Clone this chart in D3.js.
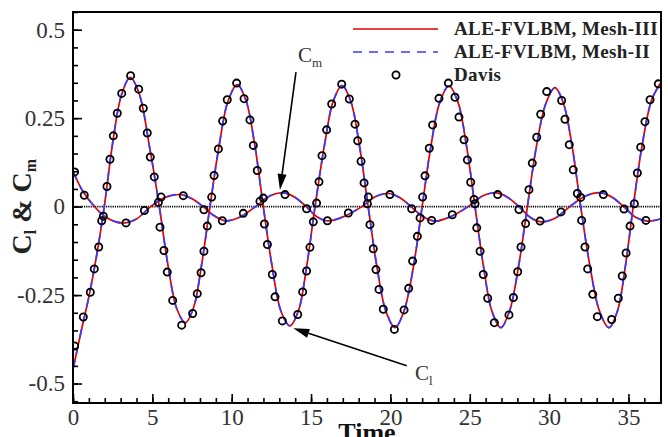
<!DOCTYPE html>
<html>
<head>
<meta charset="utf-8">
<style>
body { margin: 0; background: #fff; }
svg { display: block; font-family: "Liberation Serif", "DejaVu Serif", serif; }
</style>
</head>
<body>
<svg id="chart" width="668" height="437"></svg>
<script src="https://cdn.jsdelivr.net/npm/d3@7"></script>
<script>

// C_l, simulation (Mesh-III / Mesh-II overlap)
var clTime = [0, 0.5, 1.0, 1.5, 1.97, 2.5, 3.05, 3.6, 4.15, 4.85, 5.44, 6.0, 6.55, 7.08, 7.6, 8.1, 8.63,
  9.2, 9.78, 10.35, 10.9, 11.45, 11.99, 12.55, 13.1, 13.67, 14.2, 14.72, 15.25, 15.85, 16.4, 16.95,
  17.5, 18.05, 18.6, 19.15, 19.72, 20.29, 20.85, 21.45, 22.0, 22.55, 23.12, 23.69, 24.25, 24.8,
  25.33, 25.87, 26.4, 26.95, 27.5, 28.07, 28.63, 29.2, 29.8, 30.37, 30.9, 31.45, 31.99, 32.58,
  33.18, 33.77, 34.3, 34.8, 35.3, 35.85, 36.45, 37.0];
var clValue = [-0.46, -0.355, -0.255, -0.135, 0, 0.18, 0.315, 0.365, 0.322, 0.162, 0, -0.17, -0.29,
  -0.328, -0.285, -0.165, 0, 0.17, 0.3, 0.345, 0.3, 0.175, 0, -0.17, -0.295, -0.337, -0.295, -0.17,
  0, 0.175, 0.298, 0.342, 0.298, 0.172, 0, -0.17, -0.296, -0.342, -0.296, -0.17, 0, 0.17, 0.296,
  0.341, 0.296, 0.17, 0, -0.17, -0.296, -0.342, -0.296, -0.17, 0, 0.17, 0.292, 0.336, 0.292, 0.17,
  0, -0.17, -0.296, -0.342, -0.296, -0.17, 0, 0.17, 0.3, 0.348];

// C_m, simulation
var cmTime = [0, 0.6, 1.3, 2.0, 2.7, 3.3, 4.0, 4.9, 5.8, 6.8, 7.5, 8.2, 8.9, 9.6, 10.5, 11.5, 12.4,
  13.3, 14.0, 14.7, 15.35, 16.0, 16.9, 18.2, 19.05, 19.9, 20.6, 21.3, 22.05, 22.8, 23.7, 24.9, 25.8,
  26.7, 27.4, 28.1, 28.8, 29.5, 30.4, 31.3, 32.3, 33.3, 34.0, 34.7, 35.45, 36.2, 37.0];
var cmValue = [0.1, 0.045, 0.003, -0.028, -0.043, -0.046, -0.035, 0, 0.026, 0.034, 0.022, 0, -0.026,
  -0.04, -0.03, 0, 0.03, 0.039, 0.026, 0, -0.028, -0.04, -0.031, 0, 0.028, 0.037, 0.025, 0, -0.028,
  -0.041, -0.03, 0, 0.03, 0.039, 0.026, 0, -0.03, -0.043, -0.032, 0, 0.03, 0.039, 0.026, 0, -0.03,
  -0.041, -0.035];

// Davis, C_l
var davisClTime = [0.1, 0.65, 1.09, 1.34, 1.62, 1.91, 2.14, 2.33, 2.54, 2.79, 3.07, 3.63, 4.14, 4.43,
  4.68, 4.87, 5.12, 5.38, 5.48, 5.73, 5.94, 6.28, 6.85, 7.54, 7.83, 8.07, 8.25, 8.46, 8.74, 8.89,
  9.16, 9.43, 9.72, 10.31, 10.78, 11.15, 11.36, 11.61, 11.99, 12.06, 12.25, 12.56, 12.73, 13.19,
  14.16, 14.47, 14.72, 14.93, 15.14, 15.35, 15.5, 15.69, 15.98, 16.3, 16.93, 17.41, 17.77, 17.94,
  18.15, 18.34, 18.61, 18.71, 18.92, 19.09, 19.28, 19.55, 20.25, 20.86, 21.15, 21.4, 21.7, 21.87,
  22.03, 22.18, 22.45, 22.66, 23.06, 23.65, 24.07, 24.32, 24.64, 24.85, 25.06, 25.33, 25.44, 25.65,
  25.85, 26.13, 26.55, 27.47, 27.75, 28.02, 28.23, 28.52, 28.73, 28.94, 29.22, 29.47, 29.85, 30.79,
  31.0, 31.27, 31.52, 31.78, 32.05, 32.26, 32.43, 32.75, 33.04, 33.94, 34.36, 34.61, 34.85, 35.1,
  35.37, 35.56, 35.77, 36.04, 36.36, 36.88];
var davisClValue = [-0.394, -0.312, -0.242, -0.176, -0.114, -0.027, 0.057, 0.134, 0.2, 0.264, 0.32,
  0.37, 0.332, 0.278, 0.208, 0.14, 0.084, 0.012, -0.058, -0.124, -0.185, -0.265, -0.335, -0.302,
  -0.246, -0.187, -0.126, -0.055, 0.027, 0.088, 0.163, 0.242, 0.302, 0.349, 0.305, 0.245, 0.173,
  0.102, 0.024, -0.049, -0.107, -0.192, -0.255, -0.323, -0.305, -0.241, -0.182, -0.115, -0.043, 0.01,
  0.07, 0.144, 0.217, 0.29, 0.346, 0.304, 0.233, 0.186, 0.128, 0.067, 0.027, -0.051, -0.119, -0.178,
  -0.234, -0.29, -0.347, -0.292, -0.231, -0.154, -0.084, -0.032, 0.027, 0.087, 0.165, 0.231, 0.306,
  0.349, 0.309, 0.253, 0.189, 0.132, 0.069, 0.008, -0.06, -0.126, -0.192, -0.259, -0.328, -0.306,
  -0.257, -0.184, -0.114, -0.048, 0.048, 0.123, 0.196, 0.261, 0.325, 0.3, 0.247, 0.175, 0.104, 0.037,
  -0.039, -0.114, -0.176, -0.248, -0.311, -0.319, -0.259, -0.196, -0.131, -0.055, 0.008, 0.095, 0.168,
  0.24, 0.302, 0.347];

// Davis, C_m
var davisCmTime = [0.1, 0.71, 1.81, 3.34, 4.5, 5.55, 6.95, 8.25, 9.41, 10.73, 11.78, 13.36, 14.72,
  16.03, 17.35, 18.55, 19.97, 21.34, 22.6, 23.9, 25.27, 26.76, 28.1, 29.43, 30.75, 31.99, 33.42,
  34.72, 36.1];
var davisCmValue = [0.098, 0.032, -0.04, -0.046, -0.011, 0.027, 0.031, -0.009, -0.04, -0.019, 0.015,
  0.034, -0.006, -0.04, -0.018, 0.008, 0.034, -0.006, -0.039, -0.023, 0.02, 0.034, -0.008, -0.041,
  -0.015, 0.026, 0.034, -0.007, -0.039];

var xMajor = [0, 5, 10, 15, 20, 25, 30, 35];
var yMajor = [0.5, 0.25, 0, -0.25, -0.5];
var yLabels = ['0.5', '0.25', '0', '-0.25', '-0.5'];
var legendNames = ['ALE-FVLBM, Mesh-III', 'ALE-FVLBM, Mesh-II', 'Davis'];

var svg = d3.select('#chart');
var margin = {top: 12, right: 7, bottom: 34, left: 73},
    width = 668 - margin.left - margin.right,
    height = 437 - margin.top - margin.bottom;

var g = svg.append('g')
    .attr('transform', 'translate(' + margin.left + ',' + margin.top + ')');

var x = d3.scaleLinear().domain([0, 37.05]).range([0, width]);
var y = d3.scaleLinear().domain([-0.555, 0.55]).range([height, 0]);

g.append('clipPath').attr('id', 'clip')
  .append('rect').attr('width', width).attr('height', height);

// zero line
g.append('line')
    .attr('x1', 0).attr('x2', width)
    .attr('y1', y(0)).attr('y2', y(0))
    .style('stroke', '#000')
    .style('stroke-width', 1.6)
    .style('stroke-dasharray', '1.2,1');

var line = d3.line()
    .x(function(d) { return x(d[0]); })
    .y(function(d) { return y(d[1]); })
    .curve(d3.curveCatmullRom.alpha(0.5));

var clData = clTime.map(function(t, i) { return [t, clValue[i]]; });
var cmData = cmTime.map(function(t, i) { return [t, cmValue[i]]; });

var plot = g.append('g').attr('clip-path', 'url(#clip)');

[clData, cmData].forEach(function(d) {
  plot.append('path').datum(d)
      .attr('d', line)
      .style('fill', 'none')
      .style('stroke', '#e00000')
      .style('stroke-width', 1.7);
});
[clData, cmData].forEach(function(d) {
  plot.append('path').datum(d)
      .attr('d', line)
      .style('fill', 'none')
      .style('stroke', '#3a3aff')
      .style('stroke-width', 1.7)
      .style('stroke-dasharray', '9,7');
});

var davis = davisClTime.map(function(t, i) { return [t, davisClValue[i]]; })
    .concat(davisCmTime.map(function(t, i) { return [t, davisCmValue[i]]; }));

plot.selectAll('.davis')
    .data(davis)
    .enter().append('circle')
    .attr('class', 'davis')
    .attr('cx', function(d) { return x(d[0]); })
    .attr('cy', function(d) { return y(d[1]); })
    .attr('r', 3.6)
    .style('fill', 'none')
    .style('stroke', '#000')
    .style('stroke-width', 1.8);

// axes, ticks pointing inward
var xAxis = g.append('g')
    .attr('transform', 'translate(0,' + height + ')')
    .call(d3.axisBottom(x).tickValues(d3.range(0, 38, 1)).tickSize(-5).tickFormat(''));
var xAxisMajor = g.append('g')
    .attr('transform', 'translate(0,' + height + ')')
    .call(d3.axisBottom(x).tickValues(xMajor).tickSize(-9).tickPadding(6).tickFormat(d3.format('d')));
var yAxis = g.append('g')
    .call(d3.axisLeft(y).tickValues(d3.range(-0.55, 0.551, 0.05)).tickSize(-5).tickFormat(''));
var yAxisMajor = g.append('g')
    .call(d3.axisLeft(y).tickValues(yMajor).tickSize(-9).tickPadding(8)
      .tickFormat(function(d, i) { return yLabels[i]; }));

g.selectAll('.domain').remove();
g.selectAll('.tick line').style('stroke', '#000').style('stroke-width', 1.6);
g.selectAll('.tick text')
    .style('font-family', '"Liberation Serif", serif')
    .style('font-size', '23px')
    .style('fill', '#333');

g.append('rect')
    .attr('width', width).attr('height', height)
    .style('fill', 'none')
    .style('stroke', '#000')
    .style('stroke-width', 2);

// axis titles
svg.append('text')
    .attr('transform', 'translate(31,' + (margin.top + y(0)) + ') rotate(-90)')
    .attr('text-anchor', 'middle')
    .style('font-size', '28px')
    .style('font-weight', 'bold')
    .style('fill', '#222')
    .html('C<tspan dy="5" font-size="16">l</tspan><tspan dy="-5"> &amp; C</tspan><tspan dy="5" font-size="16">m</tspan>');

svg.append('text')
    .attr('x', margin.left + width / 2)
    .attr('y', 441)
    .attr('text-anchor', 'middle')
    .style('font-size', '26px')
    .style('font-weight', 'bold')
    .style('fill', '#111')
    .text('Time');

// legend
var legend = svg.append('g');
var rows = [29, 52, 75];
legend.append('line').attr('x1', 353).attr('x2', 438).attr('y1', rows[0]).attr('y2', rows[0])
    .style('stroke', '#e00000').style('stroke-width', 1.7);
legend.append('line').attr('x1', 353).attr('x2', 438).attr('y1', rows[1]).attr('y2', rows[1])
    .style('stroke', '#3a3aff').style('stroke-width', 1.7).style('stroke-dasharray', '9,7');
legend.append('circle').attr('cx', 396).attr('cy', rows[2]).attr('r', 3.6)
    .style('fill', 'none').style('stroke', '#000').style('stroke-width', 1.8);
legend.selectAll('.leg')
    .data(legendNames)
    .enter().append('text')
    .attr('x', 454)
    .attr('y', function(d, i) { return rows[i] + 6; })
    .style('font-size', '19px')
    .style('letter-spacing', '0.4px')
    .style('font-weight', 'bold')
    .style('fill', '#222')
    .text(function(d) { return d; });

// annotations
function arrow(x1, y1, x2, y2) {
  var ang = Math.atan2(y2 - y1, x2 - x1), len = 16, half = 4.5;
  var bx = x2 - len * Math.cos(ang), by = y2 - len * Math.sin(ang);
  g.append('line')
      .attr('x1', x1).attr('y1', y1).attr('x2', bx).attr('y2', by)
      .style('stroke', '#000').style('stroke-width', 1.6);
  g.append('path')
      .attr('d', 'M' + x2 + ',' + y2 +
        'L' + (bx + half * Math.sin(ang)) + ',' + (by - half * Math.cos(ang)) +
        'L' + (bx - half * Math.sin(ang)) + ',' + (by + half * Math.cos(ang)) + 'Z')
      .style('fill', '#000');
}
arrow(x(14.05), y(0.38), x(13.04), y(0.047));
arrow(x(21.03), y(-0.45), x(13.88), y(-0.344));

g.append('text')
    .attr('x', x(14.18)).attr('y', y(0.41))
    .style('font-size', '21px').style('fill', '#333')
    .html('C<tspan dy="5" font-size="13">m</tspan>');
g.append('text')
    .attr('x', x(21.55)).attr('y', y(-0.49))
    .style('font-size', '21px').style('fill', '#333')
    .html('C<tspan dy="5" font-size="13">l</tspan>');

</script>
</body>
</html>
